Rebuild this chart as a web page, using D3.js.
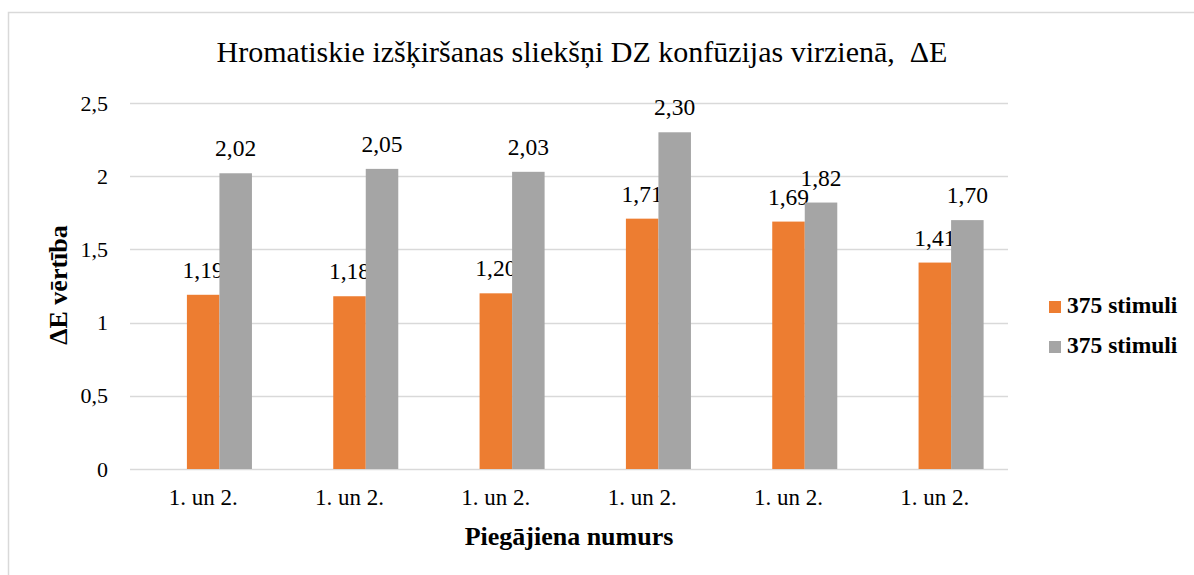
<!DOCTYPE html>
<html>
<head>
<meta charset="utf-8">
<script src="https://cdn.jsdelivr.net/npm/d3@7"></script>
<style>
  body { margin: 0; background: #fff; }
</style>
</head>
<body>
<script>
// chart data
var categories = ["1. un 2.", "1. un 2.", "1. un 2.", "1. un 2.", "1. un 2.", "1. un 2."];
var seriesNames = ["375 stimuli", "375 stimuli"];
var seriesOrange = [1.19, 1.18, 1.20, 1.71, 1.69, 1.41];
var seriesGray = [2.02, 2.05, 2.03, 2.30, 1.82, 1.70];
var yTicks = [0, 0.5, 1, 1.5, 2, 2.5];
var colors = ["#ED7D31", "#A5A5A5"];

var FONT = "'Liberation Serif'";

var width = 1194, height = 575;
var margin = {top: 103, right: 186, bottom: 106, left: 130};
var plot_w = width - margin.left - margin.right;
var plot_h = height - margin.top - margin.bottom;

var svg = d3.select("body").append("svg")
  .attr("width", width)
  .attr("height", height);

// outer chart border
svg.append("rect")
  .attr("x", 8.5).attr("y", 12.5)
  .attr("width", 1200).attr("height", 600)
  .attr("fill", "none")
  .attr("stroke", "#D9D9D9")
  .attr("stroke-width", 1.5);

var g = svg.append("g")
  .attr("transform", "translate(" + margin.left + "," + margin.top + ")");

// Excel-like gap width 150%, three slots per group (first slot is an empty series)
var slots = 3, gap = 1.5;
var xScale = d3.scaleBand()
  .domain(d3.range(categories.length))
  .range([0, plot_w])
  .paddingInner(gap / (slots + gap))
  .paddingOuter(gap / (slots + gap) / 2);

var slotScale = d3.scaleBand()
  .domain([0, 1, 2])
  .range([0, xScale.bandwidth()]);

var yScale = d3.scaleLinear()
  .domain([0, 2.5])
  .range([plot_h, 0]);

// gridlines
g.selectAll(".grid")
  .data(yTicks)
  .enter().append("line")
  .attr("x1", 0).attr("x2", plot_w)
  .attr("y1", function(d) { return Math.round(yScale(d)) + 0.5; })
  .attr("y2", function(d) { return Math.round(yScale(d)) + 0.5; })
  .attr("stroke", "#D9D9D9")
  .attr("stroke-width", 1.5);

// y tick labels
var yAxis = d3.axisLeft(yScale)
  .tickValues(yTicks)
  .tickSize(0)
  .tickPadding(22)
  .tickFormat(function(d) { return String(d).replace(".", ","); });
var yAx = g.append("g").call(yAxis);
yAx.select(".domain").remove();
yAx.selectAll("text")
  .style("font-family", FONT)
  .style("font-size", "22px")
  .attr("fill", "#000");

// x labels
var xAxis = d3.axisBottom(xScale)
  .tickSize(0)
  .tickPadding(20)
  .tickFormat(function(i) { return categories[i]; });
var xAx = g.append("g")
  .attr("transform", "translate(0," + plot_h + ")")
  .call(xAxis);
xAx.select(".domain").remove();
xAx.selectAll("text")
  .style("font-family", FONT)
  .style("font-size", "23px")
  .attr("fill", "#000");

// bars
var allSeries = [seriesOrange, seriesGray];
allSeries.forEach(function(vals, si) {
  var bars = g.append("g");
  bars.selectAll("rect")
    .data(vals)
    .enter().append("rect")
    .attr("x", function(d, i) { return xScale(i) + slotScale(si + 1); })
    .attr("width", slotScale.bandwidth())
    .attr("y", function(d) { return yScale(d); })
    .attr("height", function(d) { return plot_h - yScale(d); })
    .attr("fill", colors[si]);
  bars.selectAll("text")
    .data(vals)
    .enter().append("text")
    .attr("x", function(d, i) { return xScale(i) + slotScale(si + 1) + slotScale.bandwidth() / 2; })
    .attr("y", function(d) { return yScale(d) - 17; })
    .attr("text-anchor", "middle")
    .style("font-family", FONT)
    .style("font-size", "23.5px")
    .text(function(d) { return d.toFixed(2).replace(".", ","); });
});

// title (keeps the double space before ΔE)
svg.append("text")
  .attr("x", 582)
  .attr("y", 62)
  .attr("text-anchor", "middle")
  .style("font-family", FONT)
  .style("font-size", "30px")
  .style("white-space", "pre")
  .text("Hromatiskie izšķiršanas sliekšņi DZ konfūzijas virzienā,  ΔE");

// axis titles
svg.append("text")
  .attr("transform", "translate(67,285) rotate(-90)")
  .attr("text-anchor", "middle")
  .style("font-family", FONT)
  .style("font-size", "26px")
  .style("font-weight", "bold")
  .text("ΔE vērtība");

svg.append("text")
  .attr("x", 569)
  .attr("y", 545)
  .attr("text-anchor", "middle")
  .style("font-family", FONT)
  .style("font-size", "26px")
  .style("font-weight", "bold")
  .text("Piegājiena numurs");

// legend
var legend = svg.append("g").attr("transform", "translate(1049,301)");
seriesNames.forEach(function(name, i) {
  var row = legend.append("g").attr("transform", "translate(0," + (i * 40) + ")");
  row.append("rect")
    .attr("width", 12).attr("height", 12)
    .attr("fill", colors[i]);
  row.append("text")
    .attr("x", 18).attr("y", 12)
    .style("font-family", FONT)
    .style("font-size", "23.5px")
    .style("font-weight", "bold")
    .text(name);
});
</script>
</body>
</html>
